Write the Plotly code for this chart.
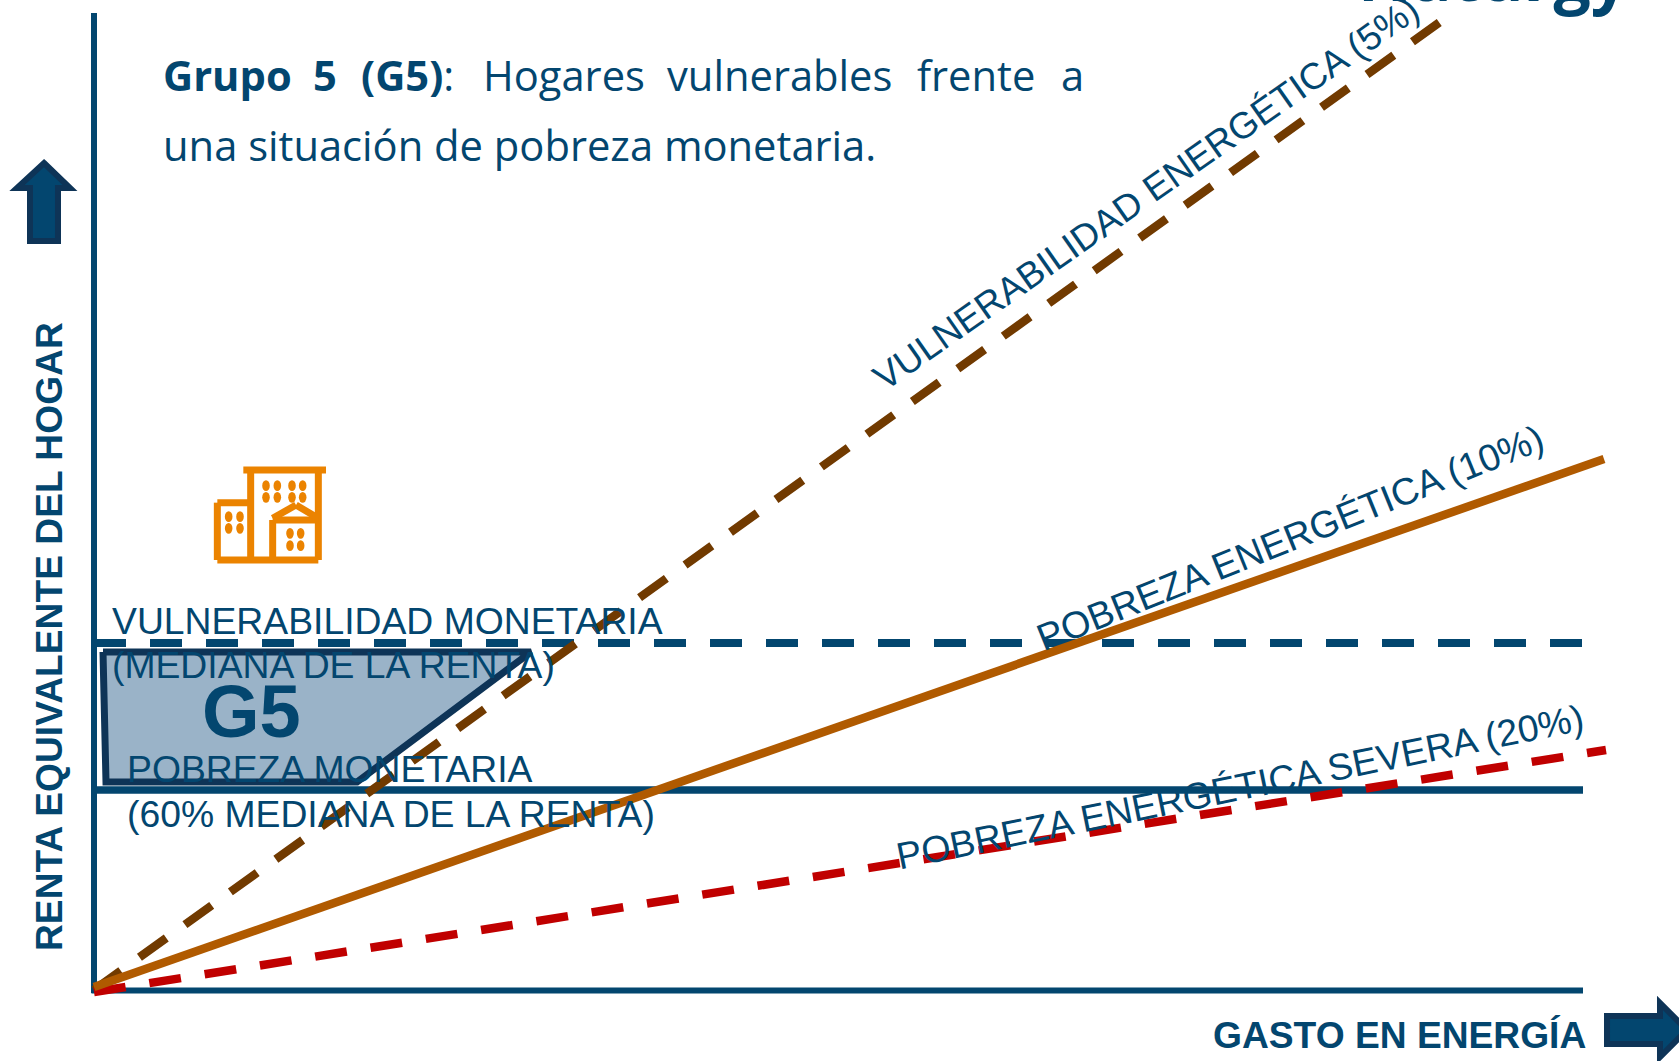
import plotly.graph_objects as go

W, H = 1679, 1061
X0, Y0 = 94, 990  # page position of the chart origin

NAVY = "#03466F"
DARK = "#0E3457"
ICON = "#EB8300"

# ---- data (x: gasto en energia, y: renta equivalente) ----
eje_x = [-2.5, 1489]
eje_x_base = [-0.5, -0.5]
eje_y = [0, 0]
eje_y_alto = [-3, 977]
gasto_vuln = [0, 1346]
renta_vuln = [0, 968]
gasto_pe = [0, 1510]
renta_pe = [3, 531]
gasto_pes = [0, 1512]
renta_pes = [-2, 240]
gasto_umbral = [0, 1489]
renta_mediana = [347, 347]
renta_60 = [200, 200]
g5_gasto = [9, 437, 263, 12, 9]
g5_renta = [338, 338, 208, 208, 338]

word_x = [161, 311, 359, 481, 665, 915, 1059]
word_txt = ["<b>Grupo</b>", "<b>5</b>", "<b>(G5)</b>:", "Hogares", "vulnerables", "frente", "a"]

fig = go.Figure()


def line(x, y, color, width, dash="solid"):
    fig.add_trace(go.Scatter(x=x, y=y, mode="lines", hoverinfo="skip", showlegend=False,
                             line=dict(color=color, width=width, dash=dash)))


line(eje_x, eje_x_base, NAVY, 6)
line(eje_y, eje_y_alto, NAVY, 6)
fig.add_trace(go.Scatter(x=g5_gasto, y=g5_renta, mode="lines", fill="toself", fillcolor="#9AB3C8",
                         hoverinfo="skip", showlegend=False, line=dict(color=DARK, width=7)))
line(gasto_umbral, renta_mediana, NAVY, 8, "32px,24px")
line(gasto_umbral, renta_60, NAVY, 7.5)
line(gasto_vuln, renta_vuln, "#713A00", 8.5, "33px,23px")
line(gasto_pes, renta_pes, "#C00000", 8.5, "32px,24px")
line(gasto_pe, renta_pe, "#B05A00", 8.5)


def px(x):
    return x / W


def py(y):
    return (H - y) / H


def path(points, fill, stroke, width):
    d = "M " + " L ".join(f"{px(a):.5f},{py(b):.5f}" for a, b in points) + " Z"
    return dict(type="path", xref="paper", yref="paper", path=d, fillcolor=fill,
                line=dict(color=stroke, width=width))


def seg(x0, y0, x1, y1, width=7):
    return dict(type="line", xref="paper", yref="paper", x0=px(x0), y0=py(y0), x1=px(x1), y1=py(y1),
                line=dict(color=ICON, width=width))


def ell(cx, cy, rx=3.8, ry=5.4):
    return dict(type="circle", xref="paper", yref="paper", x0=px(cx - rx), x1=px(cx + rx),
                y0=py(cy - ry), y1=py(cy + ry), fillcolor=ICON, line=dict(width=0))


def I(a, b):
    return 200 + a / 3, 450 + b / 3


shapes = [
    path([(44, 163), (70, 188), (58, 188), (58, 241), (30, 241), (30, 188), (17, 188)], NAVY, DARK, 6),
    path([(1607, 1016), (1660, 1016), (1660, 1003), (1687, 1030), (1660, 1057), (1660, 1044), (1607, 1044)],
         NAVY, DARK, 6),
]
# building icon
for a, b, c, d in [(130, 60, 378, 60), (152, 60, 152, 330), (355, 60, 355, 330), (52, 330, 355, 330),
                   (52, 158, 152, 158), (52, 158, 52, 330), (218, 210, 218, 330), (218, 210, 355, 210),
                   (218, 205, 288, 165), (288, 165, 355, 205)]:
    shapes.append(seg(*I(a, b), *I(c, d)))
for a in (198, 232, 276, 308):
    for b in (107, 142):
        shapes.append(ell(*I(a, b)))
for a in (86, 120):
    for b in (200, 235):
        shapes.append(ell(*I(a, b)))
for a in (270, 302):
    for b in (250, 287):
        shapes.append(ell(*I(a, b)))

ann = []


def text(s, x, y, size, anchor="left", angle=0, family="Liberation Sans", color=NAVY):
    ann.append(dict(text=s, x=px(x), y=py(y), xref="paper", yref="paper", xanchor=anchor, yanchor="middle",
                    showarrow=False, textangle=angle, font=dict(family=family, size=size, color=color)))


text("VULNERABILIDAD MONETARIA", 110, 621, 37.3)
text("(MEDIANA DE LA RENTA)", 110, 665, 37.3)
text("POBREZA MONETARIA", 125, 769, 37.3)
text("(60% MEDIANA DE LA RENTA)", 125, 814, 37.3)
text("<b>G5</b>", 251, 711, 74, "center")
text("<b>GASTO EN ENERGÍA</b>", 1588, 1035, 37.2, "right")
text("<b>RENTA EQUIVALENTE DEL HOGAR</b>", 49, 637, 37.2, "center", -90)
text("VULNERABILIDAD ENERGÉTICA (5%)", 1146, 193, 37, "center", -35)
text("POBREZA ENERGÉTICA (10%)", 1290, 538, 37.7, "center", -22)
text("POBREZA ENERGÉTICA SEVERA (20%)", 1240, 787, 37.5, "center", -11.5)
for x0, w in zip(word_x, word_txt):
    text(w, x0, 74, 41.7, family="Open Sans")
text("una situación de pobreza monetaria.", 161, 144, 41.7, family="Open Sans")
text("<b>Naturgy</b>", 1631, -25, 66, "right", family="Open Sans")

fig.update_layout(
    width=W, height=H, margin=dict(l=0, r=0, t=0, b=0), autosize=False,
    paper_bgcolor="white", plot_bgcolor="white", showlegend=False, shapes=shapes, annotations=ann,
    xaxis=dict(range=[-X0, W - X0], visible=False),
    yaxis=dict(range=[Y0 - H, Y0], visible=False),
)
fig.write_html("out.html", config=dict(displayModeBar=False),
               post_script="document.body.style.margin='0';document.body.style.overflow='hidden';")
